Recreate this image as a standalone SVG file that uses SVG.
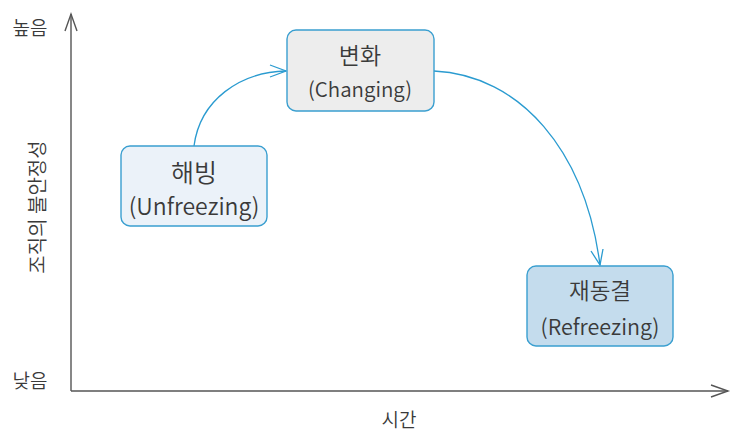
<svg xmlns="http://www.w3.org/2000/svg" width="734" height="438" viewBox="0 0 734 438">
<style>
.lbl{font-family:"Noto Sans CJK KR","Noto Sans",sans-serif;fill:#3a3a3a;font-weight:350;}
.ax{stroke:#555;stroke-width:1.4;fill:none;}
.node{stroke:#3a9fd0;stroke-width:1.4;}
.con{stroke:#2a9bd0;stroke-width:1.3;fill:none;}
</style>
<rect width="734" height="438" fill="#fff"/>
<g id="axes">
<path class="ax" d="M71,391 V14 M71,391 H728"/>
<path class="ax" d="M65,31 L71,14 L77,31"/>
<path class="ax" d="M711,385 L728,391 L711,397"/>
</g>
<g id="axis-labels">
<text class="lbl" x="30" y="35" font-size="19" text-anchor="middle">높음</text>
<text class="lbl" x="30" y="388" font-size="19" text-anchor="middle">낮음</text>
<text class="lbl" x="399" y="427" font-size="19" text-anchor="middle">시간</text>
<text class="lbl" font-size="20" text-anchor="middle" transform="translate(45,207) rotate(-90)">조직의 불안정성</text>
</g>
<g id="connectors">
<path class="con" d="M194,146 C200,100 240,72 286,71"/>
<path class="con" d="M270,65 L286,71 L270,77"/>
<path class="con" d="M434,71 C520,75 585,150 600,265"/>
<path class="con" d="M591,251 L600,265 L603,249"/>
</g>
<g id="n-unfreezing">
<rect class="node" x="121" y="146" width="146" height="80" rx="9" fill="#ebf2f9"/>
<text class="lbl" x="194" y="182" font-size="25" text-anchor="middle">해빙</text>
<text class="lbl" x="194" y="215" font-size="23" text-anchor="middle">(Unfreezing)</text>
</g>
<g id="n-changing">
<rect class="node" x="287" y="30" width="147" height="81" rx="9" fill="#ededed"/>
<text class="lbl" x="360" y="64" font-size="23" text-anchor="middle">변화</text>
<text class="lbl" x="360" y="97" font-size="20.5" text-anchor="middle">(Changing)</text>
</g>
<g id="n-refreezing">
<rect class="node" x="527" y="266" width="146" height="80" rx="9" fill="#c4dced"/>
<text class="lbl" x="600" y="299" font-size="22.5" text-anchor="middle">재동결</text>
<text class="lbl" x="600" y="335" font-size="21.5" text-anchor="middle">(Refreezing)</text>
</g>
</svg>
